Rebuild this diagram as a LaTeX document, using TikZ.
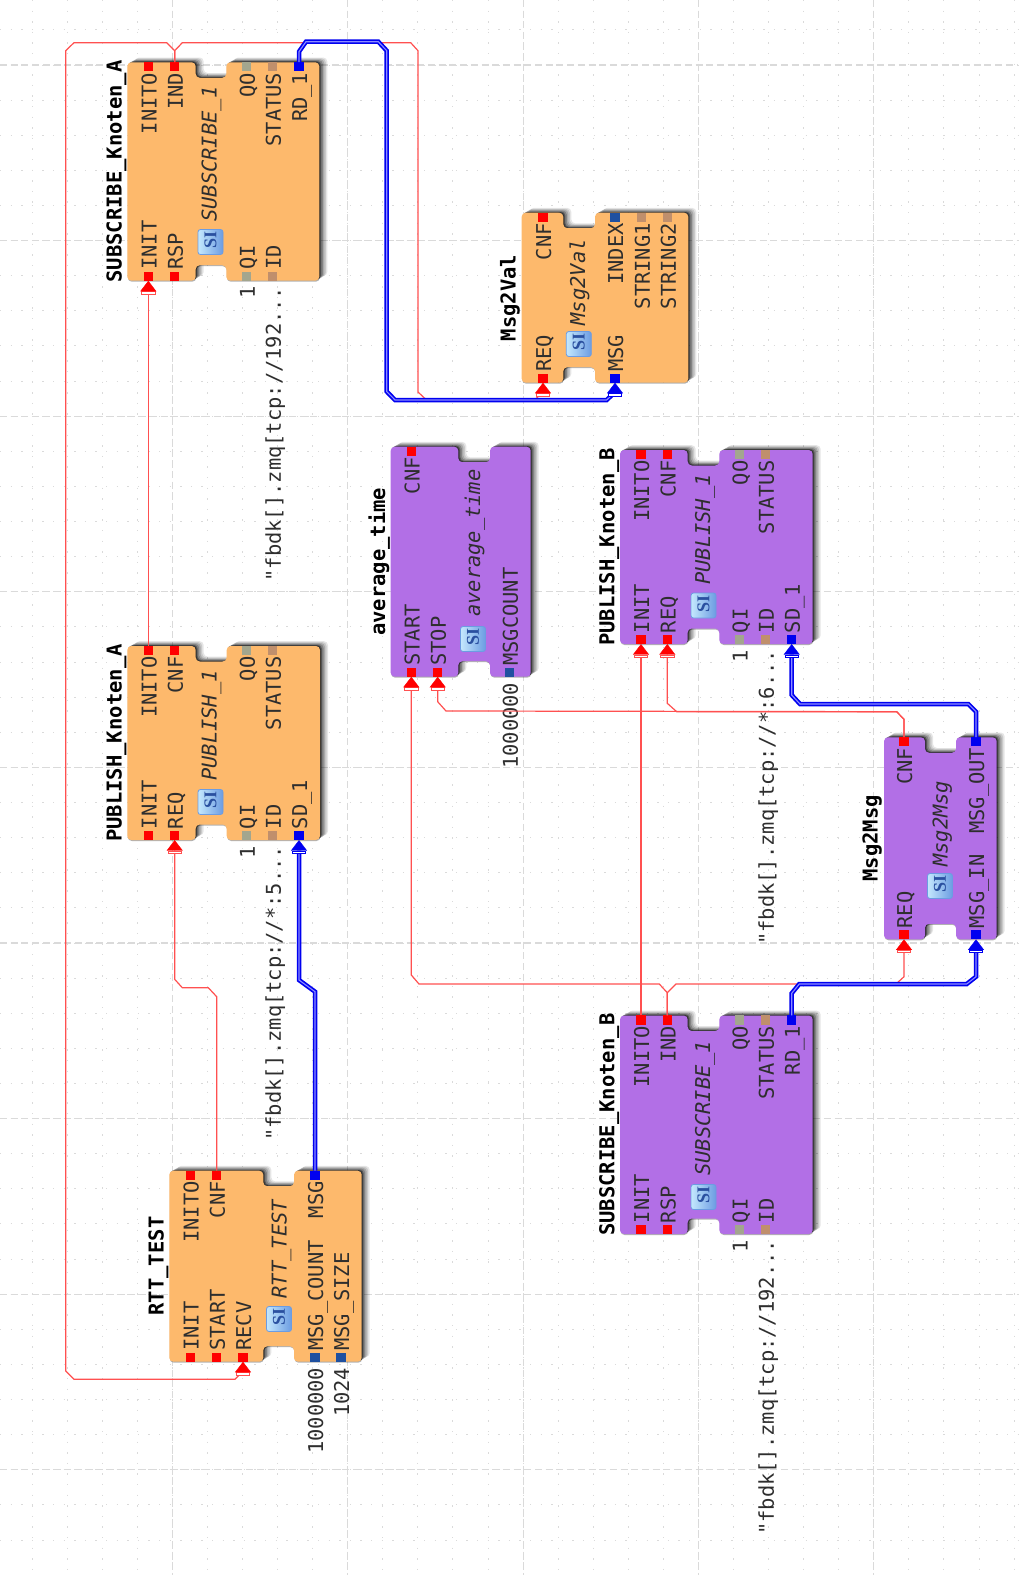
\documentclass[tikz,border=0pt]{standalone}
\usepackage{fontspec}
\usetikzlibrary{arrows.meta}
\newfontfamily\fbm{DejaVu Sans Mono}
\newfontfamily\fbs{Liberation Serif}
\definecolor{fborange}{HTML}{FDB96C}
\definecolor{fbpurple}{HTML}{B26FE6}
\definecolor{evred}{HTML}{FF0000}
\definecolor{linkred}{HTML}{FF5050}
\definecolor{msgblue}{HTML}{0000F0}
\definecolor{intblue}{HTML}{1F50A0}
\definecolor{boolgrey}{HTML}{A3A68E}
\definecolor{strtan}{HTML}{C08F6C}
\definecolor{gridc}{HTML}{DADADA}
\definecolor{iconl}{HTML}{C4E8FD}
\definecolor{iconr}{HTML}{6C9CE2}
\definecolor{icont}{HTML}{2A50A0}
\tikzset{
  griddot/.style={gridc,line width=1pt,dash pattern=on 1.4pt off 9.2pt},
  gridmaj/.style={gridc,line width=1.2pt,dash pattern=on 7pt off 3.7pt},
  portbase/.style={minimum size=9.2pt,inner sep=0pt,outer sep=0pt,draw=none},
  evp/.style={portbase,fill=evred},
  msgp/.style={portbase,fill=msgblue},
  intp/.style={portbase,fill=intblue},
  boolp/.style={portbase,fill=boolgrey},
  strp/.style={portbase,fill=strtan},
  lab/.style={rotate=90,inner sep=0pt,outer sep=0pt,text=black!82,font=\fbm\fontsize{20.4}{24}\selectfont},
  titlelab/.style={rotate=90,anchor=base,inner sep=0pt,text=black,font=\fbm\bfseries\fontsize{20.5}{24}\selectfont},
  instlab/.style={rotate=90,anchor=base west,inner sep=0pt,text=black!82,font=\fbm\itshape\fontsize{20.4}{24}\selectfont},
  iconbox/.style={minimum size=25pt,inner sep=0pt,rounded corners=2.5pt,draw=iconr,line width=.8pt,left color=iconl,right color=iconr},
  iconlab/.style={rotate=90,inner sep=0pt,text=icont,font=\fbs\bfseries\fontsize{18}{20}\selectfont},
  redlink/.style={linkred,line width=1.2pt},
  bluelink/.style={msgblue,line width=1.7pt,double=blue!45!white,double distance=1.1pt},
  redtip/.style={-{Rectangle[length=3pt,width=14pt,fill=white,color=linkred,line width=.8pt]Triangle[length=10.5pt,width=16pt,fill=evred,color=evred,line width=.3pt]}},
  bluetip/.style={-{Rectangle[length=3pt,width=14pt,fill=white,color=msgblue,line width=.8pt]Triangle[length=10.5pt,width=16pt,fill=msgblue,color=msgblue,line width=.3pt]}},
}
% x0 y0 x1 y1 notch-left notch-right fill
\newcommand\fboutline[6]{({#1+12},#2) -- (#5,#2) -- (#5,{#2+15.5}) -- (#6,{#2+15.5}) -- (#6,#2) -- (#3,#2) -- (#3,#4) -- (#6,#4) -- (#6,{#4-15.5}) -- (#5,{#4-15.5}) -- (#5,#4) -- (#1,#4) -- (#1,#2) -- cycle}
\newcommand\fbbody[7]{%
  \foreach \s/\o in {8/.10,6.5/.12,5/.16,3.5/.22,2/.32,1/.42}{%
    \fill[black,opacity=\o,rounded corners=4pt,xshift=\s pt,yshift=\s*.6pt] \fboutline{#1}{#2}{#3}{#4}{#5}{#6};}%
  \fill[black,opacity=.3,rounded corners=4pt,xshift=.5pt,yshift=-1pt] \fboutline{#1}{#2}{#3}{#4}{#5}{#6};
  \fill[#7,rounded corners=4pt] \fboutline{#1}{#2}{#3}{#4}{#5}{#6};}
\newcommand\fbtitle[4]{\node[titlelab] (#1) at (#2,#3) {#4};}
\newcommand\fbinst[4]{\node[instlab] (#1) at (#2,#3) {#4};}
\newcommand\fbicon[3]{\node[iconbox] (#1) at (#2,#3) {};\node[iconlab,xshift=2pt] (#1-t) at (#1.center) {SI};}
% name style x y0 text
\newcommand\ptop[5]{\node[#2] (#1) at (#3,{#4+4.5}) {};\node[lab,anchor=base east] (#1-l) at ({#3+8.2},{#4+10.5}) {#5};}
\newcommand\pbot[5]{\node[#2] (#1) at (#3,{#4-4.5}) {};\node[lab,anchor=base west] (#1-l) at ({#3+8.2},{#4-11}) {#5};}
\newcommand\fbval[4]{\node[lab,anchor=base east] (#1) at ({#2+8.2},{#3+6}) {#4};}
\begin{document}
\begin{tikzpicture}[x=1pt,y=-1pt]
\useasboundingbox (0,0) rectangle (1018,1575);
\fill[white] (0,0) rectangle (1018,1575);
% grid
\foreach \k in {-4,...,24}{\pgfmathsetmacro\gx{172.4+35.07*\k}\draw[griddot] (\gx,0) -- (\gx,1575);}
\foreach \k in {-1,...,43}{\pgfmathsetmacro\gy{65+35.12*\k}\draw[griddot] (0,\gy) -- (1018,\gy);}
\foreach \k in {0,...,4}{\pgfmathsetmacro\gx{172.4+175.35*\k}\draw[gridmaj] (\gx,0) -- (\gx,1575);}
\foreach \k in {0,...,8}{\pgfmathsetmacro\gy{65+175.6*\k}\draw[gridmaj] (0,\gy) -- (1018,\gy);}

% SUBSCRIBE_Knoten_A
\fbbody{127.3}{62.3}{319.3}{280.7}{195.7}{226.3}{fborange}
\fbtitle{SAt}{121.7}{171.5}{SUBSCRIBE\_Knoten\_A}
\fbinst{SAi}{216.7}{222}{SUBSCRIBE\_1}
\fbicon{SAc}{210.5}{242}
\ptop{SA-INITO}{evp}{148.3}{62.3}{INITO}
\ptop{SA-IND}{evp}{174.7}{62.3}{IND}
\ptop{SA-QO}{boolp}{246.7}{62.3}{QO}
\ptop{SA-STATUS}{strp}{272.7}{62.3}{STATUS}
\ptop{SA-RD}{msgp}{299}{62.3}{RD\_1}
\pbot{SA-INIT}{evp}{148.3}{280.7}{INIT}
\pbot{SA-RSP}{evp}{174.7}{280.7}{RSP}
\pbot{SA-QI}{boolp}{246.7}{280.7}{QI}
\pbot{SA-ID}{strp}{272.7}{280.7}{ID}
\fbval{SA-v1}{246.7}{280.7}{1}
\fbval{SA-v2}{272.7}{280.7}{"fbdk[].zmq[tcp://192...}

% PUBLISH_Knoten_A
\fbbody{127.3}{646}{320}{840}{195.7}{226.7}{fborange}
\fbtitle{PAt}{121.7}{743}{PUBLISH\_Knoten\_A}
\fbinst{PAi}{216.7}{781}{PUBLISH\_1}
\fbicon{PAc}{210.5}{802}
\ptop{PA-INITO}{evp}{148.3}{646}{INITO}
\ptop{PA-CNF}{evp}{174.7}{646}{CNF}
\ptop{PA-QO}{boolp}{246.7}{646}{QO}
\ptop{PA-STATUS}{strp}{272.7}{646}{STATUS}
\pbot{PA-INIT}{evp}{148.3}{840}{INIT}
\pbot{PA-REQ}{evp}{174.7}{840}{REQ}
\pbot{PA-QI}{boolp}{246.7}{840}{QI}
\pbot{PA-ID}{strp}{272.7}{840}{ID}
\pbot{PA-SD}{msgp}{299}{840}{SD\_1}
\fbval{PA-v1}{246.7}{840}{1}
\fbval{PA-v2}{272.7}{840}{"fbdk[].zmq[tcp://*:5...}

% RTT_TEST
\fbbody{169.3}{1170.7}{361.7}{1361.7}{263.3}{294}{fborange}
\fbtitle{RTt}{163.7}{1266}{RTT\_TEST}
\fbinst{RTi}{286.7}{1298.5}{RTT\_TEST}
\fbicon{RTc}{279}{1319}
\ptop{RT-INITO}{evp}{190.3}{1170.7}{INITO}
\ptop{RT-CNF}{evp}{216.7}{1170.7}{CNF}
\ptop{RT-MSG}{msgp}{315}{1170.7}{MSG}
\pbot{RT-INIT}{evp}{190.3}{1361.7}{INIT}
\pbot{RT-START}{evp}{216.7}{1361.7}{START}
\pbot{RT-RECV}{evp}{243}{1361.7}{RECV}
\pbot{RT-COUNT}{intp}{315}{1361.7}{MSG\_COUNT}
\pbot{RT-SIZE}{intp}{341}{1361.7}{MSG\_SIZE}
\fbval{RT-v1}{315}{1361.7}{1000000}
\fbval{RT-v2}{341}{1361.7}{1024}

% average_time
\fbbody{390.7}{446.7}{530.7}{676.7}{458.3}{490}{fbpurple}
\fbtitle{AVt}{385}{561.7}{average\_time}
\fbinst{AVi}{480}{617}{average\_time}
\fbicon{AVc}{473}{639}
\ptop{AV-CNF}{evp}{411.3}{446.7}{CNF}
\pbot{AV-START}{evp}{411.3}{676.7}{START}
\pbot{AV-STOP}{evp}{437.7}{676.7}{STOP}
\pbot{AV-MC}{intp}{509.7}{676.7}{MSGCOUNT}
\fbval{AV-v1}{509.7}{676.7}{1000000}

% Msg2Val
\fbbody{521.7}{212.7}{688.3}{382.7}{563.3}{595}{fborange}
\fbtitle{MVt}{515.5}{298}{Msg2Val}
\fbinst{MVi}{585}{325.5}{Msg2Val}
\fbicon{MVc}{578.8}{344}
\ptop{MV-CNF}{evp}{543}{212.7}{CNF}
\ptop{MV-INDEX}{intp}{615}{212.7}{INDEX}
\ptop{MV-S1}{strp}{641.7}{212.7}{STRING1}
\ptop{MV-S2}{strp}{667.7}{212.7}{STRING2}
\pbot{MV-REQ}{evp}{543}{382.7}{REQ}
\pbot{MV-MSG}{msgp}{615}{382.7}{MSG}

% PUBLISH_Knoten_B
\fbbody{620}{450}{812.7}{644}{687.7}{719.3}{fbpurple}
\fbtitle{PBt}{614.4}{547}{PUBLISH\_Knoten\_B}
\fbinst{PBi}{710}{585}{PUBLISH\_1}
\fbicon{PBc}{703.5}{605.5}
\ptop{PB-INITO}{evp}{641}{450}{INITO}
\ptop{PB-CNF}{evp}{667.3}{450}{CNF}
\ptop{PB-QO}{boolp}{739.3}{450}{QO}
\ptop{PB-STATUS}{strp}{765.7}{450}{STATUS}
\pbot{PB-INIT}{evp}{641}{644}{INIT}
\pbot{PB-REQ}{evp}{667.3}{644}{REQ}
\pbot{PB-QI}{boolp}{739.3}{644}{QI}
\pbot{PB-ID}{strp}{765.7}{644}{ID}
\pbot{PB-SD}{msgp}{791.7}{644}{SD\_1}
\fbval{PB-v1}{739.3}{644}{1}
\fbval{PB-v2}{765.7}{644}{"fbdk[].zmq[tcp://*:6...}

% SUBSCRIBE_Knoten_B
\fbbody{620}{1015.5}{812.7}{1234}{687.7}{719.3}{fbpurple}
\fbtitle{SBt}{614.4}{1124.7}{SUBSCRIBE\_Knoten\_B}
\fbinst{SBi}{710}{1176}{SUBSCRIBE\_1}
\fbicon{SBc}{703.5}{1197}
\ptop{SB-INITO}{evp}{641}{1015.5}{INITO}
\ptop{SB-IND}{evp}{667.3}{1015.5}{IND}
\ptop{SB-QO}{boolp}{739.3}{1015.5}{QO}
\ptop{SB-STATUS}{strp}{765.7}{1015.5}{STATUS}
\ptop{SB-RD}{msgp}{791.7}{1015.5}{RD\_1}
\pbot{SB-INIT}{evp}{641}{1234}{INIT}
\pbot{SB-RSP}{evp}{667.3}{1234}{RSP}
\pbot{SB-QI}{boolp}{739.3}{1234}{QI}
\pbot{SB-ID}{strp}{765.7}{1234}{ID}
\fbval{SB-v1}{739.3}{1234}{1}
\fbval{SB-v2}{765.7}{1234}{"fbdk[].zmq[tcp://192...}

% Msg2Msg
\fbbody{884}{737.3}{996.7}{939.3}{925}{956}{fbpurple}
\fbtitle{MMt}{877.6}{838.3}{Msg2Msg}
\fbinst{MMi}{947.7}{867}{Msg2Msg}
\fbicon{MMc}{940}{886}
\ptop{MM-CNF}{evp}{904}{737.3}{CNF}
\ptop{MM-OUT}{msgp}{976}{737.3}{MSG\_OUT}
\pbot{MM-REQ}{evp}{904}{939.3}{REQ}
\pbot{MM-IN}{msgp}{976}{939.3}{MSG\_IN}

% event connections
\draw[redlink,redtip] (PA-INITO.north) -- (SA-INIT.south);
\draw[redlink,redtip] (SB-INITO.north) -- (PB-INIT.south);
\draw[redlink,redtip] (SA-IND.north) -- (174.7,50.7) -- (166.7,42.7) -- (74,42.7) -- (65.7,50.7) -- (65.7,1371) -- (74,1379.3) -- (235,1379.3) -- (243,1371) -- (RT-RECV.south);
\draw[redlink,redtip] (SA-IND.north) -- (174.7,50.7) -- (182.3,42.7) -- (410.7,42.7) -- (418,50.7) -- (418,392) -- (426,399.5) -- (535,399.5) -- (543,392) -- (MV-REQ.south);
\draw[redlink,redtip] (RT-CNF.north) -- (216.7,996.7) -- (208.3,987.7) -- (182.3,987.7) -- (174.7,979.3) -- (PA-REQ.south);
\draw[redlink,redtip] (SB-IND.north) -- (667.3,992.7) -- (659.3,984) -- (419,984) -- (411.3,975) -- (AV-START.south);
\draw[redlink,redtip] (SB-IND.north) -- (667.3,992.7) -- (676,984) -- (896,984) -- (904,976.7) -- (MM-REQ.south);
\draw[redlink,redtip] (MM-CNF.north) -- (904,719.3) -- (896.7,711.7) -- (676.7,711.7) -- (667.3,703.3) -- (PB-REQ.south);
\draw[redlink,redtip] (MM-CNF.north) -- (904,719.3) -- (896.7,711.7) -- (446,711) -- (437.7,701.7) -- (AV-STOP.south);

% data connections
\draw[bluelink,bluetip] (RT-MSG.north) -- (315,991.7) -- (299,980) -- (PA-SD.south);
\draw[bluelink,bluetip] (SA-RD.north) -- (299,51.7) -- (306,41.7) -- (378.3,41.7) -- (386.7,50.7) -- (386.7,391.5) -- (395,400) -- (606.7,400) -- (615,392) -- (MV-MSG.south);
\draw[bluelink,bluetip] (SB-RD.north) -- (791.7,993.3) -- (799.3,984) -- (966.7,984) -- (976,976.7) -- (MM-IN.south);
\draw[bluelink,bluetip] (MM-OUT.north) -- (976,711.7) -- (968.3,704) -- (800,704) -- (791.7,695) -- (PB-SD.south);
\end{tikzpicture}
\end{document}
